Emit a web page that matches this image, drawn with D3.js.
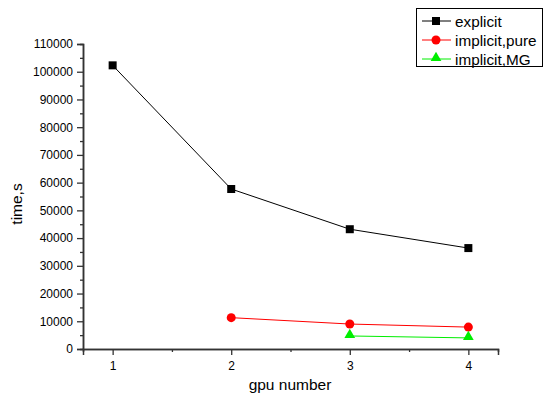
<!DOCTYPE html>
<html>
<head>
<meta charset="utf-8">
<script src="https://cdn.jsdelivr.net/npm/d3@7"></script>
<style>
  body { margin: 0; background: #fff; }
  svg { display: block; font-family: "Liberation Sans", Arial, sans-serif; }
</style>
</head>
<body>
<div id="chart"></div>
<script>
const gpus = [1, 2, 3, 4];
const explicitTimes = [102300, 57700, 43200, 36400];
const pureGpus = [2, 3, 4];
const pureTimes = [11300, 9000, 7900];
const mgGpus = [3, 4];
const mgTimes = [4700, 4000];
const yTicks = d3.range(0, 110001, 10000);
const yMinor = d3.range(5000, 110000, 10000);
const xMinor = [1.5, 2.5, 3.5];

const series = [
    { name: "explicit", color: "#000000", shape: "square", xs: gpus, ys: explicitTimes },
    { name: "implicit,pure", color: "#ff0000", shape: "circle", xs: pureGpus, ys: pureTimes },
    { name: "implicit,MG", color: "#00ee00", shape: "triangle", xs: mgGpus, ys: mgTimes }
];

const width = 546, height = 397;
const margin = { left: 83, right: 48, top: 44, bottom: 48 };

const svg = d3.select("#chart").append("svg").attr("width", width).attr("height", height);

const x = d3.scaleLinear().domain([0.75, 4.25]).range([margin.left, width - margin.right]);
const y = d3.scaleLinear().domain([0, 110000]).range([height - margin.bottom, margin.top]);

// axes
svg.append("g").attr("transform", `translate(0,${y(0)})`)
    .call(d3.axisBottom(x).tickValues(gpus).tickFormat(d3.format("d")).tickSize(6).tickPadding(6));
svg.append("g").attr("transform", `translate(0,${y(0)})`)
    .call(d3.axisBottom(x).tickValues(xMinor).tickFormat("").tickSize(3));
svg.append("g").attr("transform", `translate(${x(0.75)},0)`)
    .call(d3.axisLeft(y).tickValues(yTicks).tickFormat(d3.format("d")).tickSize(6).tickPadding(4));
svg.append("g").attr("transform", `translate(${x(0.75)},0)`)
    .call(d3.axisLeft(y).tickValues(yMinor).tickFormat("").tickSize(3));

svg.selectAll(".domain").attr("stroke", "#333").attr("stroke-width", 1.5);
svg.selectAll(".tick line").attr("stroke", "#333").attr("stroke-width", 1.3);
svg.selectAll(".tick text").attr("font-size", 12).attr("fill", "#000")
    .attr("font-family", "Liberation Sans, Arial, sans-serif");

svg.append("text").attr("x", 290).attr("y", 390).attr("text-anchor", "middle")
    .attr("font-size", 15.5).text("gpu number");
svg.append("text").attr("transform", "translate(22,204) rotate(-90)").attr("text-anchor", "middle")
    .attr("font-size", 15.5).text("time,s");

function drawMarker(g, shape, color) {
    if (shape === "square") {
        g.append("rect").attr("x", -4).attr("y", -4).attr("width", 8).attr("height", 8).attr("fill", color);
    } else if (shape === "circle") {
        g.append("circle").attr("r", 4.5).attr("fill", color);
    } else {
        g.append("path").attr("d", d3.symbol(d3.symbolTriangle, 50)()).attr("fill", color)
            .attr("transform", "translate(0,-1)");
    }
}

const line = d3.line().x(d => x(d[0])).y(d => y(d[1]));
series.forEach(s => {
    const pts = s.xs.map((v, i) => [v, s.ys[i]]);
    svg.append("path").datum(pts).attr("d", line)
        .attr("fill", "none").attr("stroke", s.color).attr("stroke-width", 1);
    pts.forEach(p => {
        const g = svg.append("g").attr("transform", `translate(${x(p[0])},${y(p[1])})`);
        drawMarker(g, s.shape, s.color);
    });
});

// legend
const legend = svg.append("g");
legend.append("rect").attr("x", 416.5).attr("y", 8.5).attr("width", 126).attr("height", 58)
    .attr("fill", "#fff").attr("stroke", "#000").attr("stroke-width", 1);
series.forEach((s, i) => {
    const ly = 21 + i * 19;
    legend.append("line").attr("x1", 422).attr("x2", 451).attr("y1", ly).attr("y2", ly)
        .attr("stroke", s.color).attr("stroke-width", 1);
    const g = legend.append("g").attr("transform", `translate(436,${ly})`);
    drawMarker(g, s.shape, s.color);
    legend.append("text").attr("x", 455).attr("y", ly + 5.5).attr("font-size", 15.3).text(s.name);
});
</script>
</body>
</html>
